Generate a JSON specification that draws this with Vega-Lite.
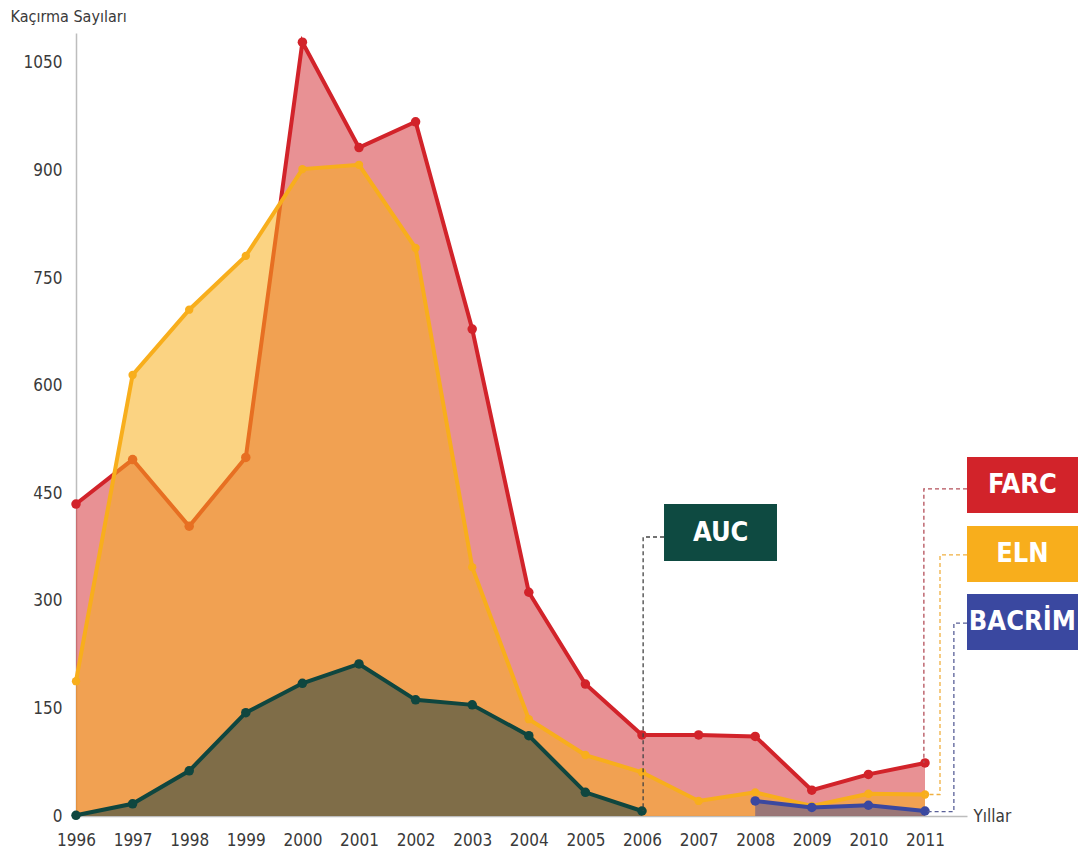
{
  "$schema": "https://vega.github.io/schema/vega-lite/v6.json",
  "width": 891,
  "height": 783,
  "autosize": "none",
  "padding": {"left": 76, "top": 33, "right": 111, "bottom": 38},
  "background": "white",
  "config": {"view": {"stroke": null}, "font": "DejaVu Sans Condensed"},
  "datasets": {
    "kac": [
      {"series": "FARC", "year": 1996, "value": 435}, {"series": "FARC", "year": 1997, "value": 497},
      {"series": "FARC", "year": 1998, "value": 404}, {"series": "FARC", "year": 1999, "value": 500},
      {"series": "FARC", "year": 2000, "value": 1079}, {"series": "FARC", "year": 2001, "value": 932},
      {"series": "FARC", "year": 2002, "value": 968}, {"series": "FARC", "year": 2003, "value": 679},
      {"series": "FARC", "year": 2004, "value": 312}, {"series": "FARC", "year": 2005, "value": 184},
      {"series": "FARC", "year": 2006, "value": 113}, {"series": "FARC", "year": 2007, "value": 113},
      {"series": "FARC", "year": 2008, "value": 111}, {"series": "FARC", "year": 2009, "value": 36},
      {"series": "FARC", "year": 2010, "value": 58}, {"series": "FARC", "year": 2011, "value": 74},
      {"series": "ELN", "year": 1996, "value": 188}, {"series": "ELN", "year": 1997, "value": 615},
      {"series": "ELN", "year": 1998, "value": 706}, {"series": "ELN", "year": 1999, "value": 781},
      {"series": "ELN", "year": 2000, "value": 902}, {"series": "ELN", "year": 2001, "value": 908},
      {"series": "ELN", "year": 2002, "value": 792}, {"series": "ELN", "year": 2003, "value": 347},
      {"series": "ELN", "year": 2004, "value": 135}, {"series": "ELN", "year": 2005, "value": 85},
      {"series": "ELN", "year": 2006, "value": 61}, {"series": "ELN", "year": 2007, "value": 21},
      {"series": "ELN", "year": 2008, "value": 33}, {"series": "ELN", "year": 2009, "value": 14},
      {"series": "ELN", "year": 2010, "value": 31}, {"series": "ELN", "year": 2011, "value": 30},
      {"series": "AUC", "year": 1996, "value": 1}, {"series": "AUC", "year": 1997, "value": 17},
      {"series": "AUC", "year": 1998, "value": 63}, {"series": "AUC", "year": 1999, "value": 144},
      {"series": "AUC", "year": 2000, "value": 185}, {"series": "AUC", "year": 2001, "value": 212},
      {"series": "AUC", "year": 2002, "value": 162}, {"series": "AUC", "year": 2003, "value": 155},
      {"series": "AUC", "year": 2004, "value": 112}, {"series": "AUC", "year": 2005, "value": 33},
      {"series": "AUC", "year": 2006, "value": 7},
      {"series": "BACRİM", "year": 2008, "value": 21}, {"series": "BACRİM", "year": 2009, "value": 12},
      {"series": "BACRİM", "year": 2010, "value": 15}, {"series": "BACRİM", "year": 2011, "value": 7}
    ],
    "boxes": [
      {"label": "FARC", "x1": 2011.742, "x2": 2013.703, "y1": 500.6, "y2": 422.5, "xc": 2012.72, "yc": 461.5},
      {"label": "ELN", "x1": 2011.742, "x2": 2013.703, "y1": 404.4, "y2": 326.3, "xc": 2012.72, "yc": 365.4},
      {"label": "BACRİM", "x1": 2011.742, "x2": 2013.703, "y1": 309.6, "y2": 231.5, "xc": 2012.72, "yc": 270.5},
      {"label": "AUC", "x1": 2006.389, "x2": 2008.385, "y1": 435.1, "y2": 355.6, "xc": 2007.39, "yc": 395.3}
    ],
    "leaders": [
      {"label": "AUC", "ord": 1, "x": 2006.389, "y": 389},
      {"label": "AUC", "ord": 2, "x": 2006.02, "y": 389},
      {"label": "AUC", "ord": 3, "x": 2006.02, "y": 7},
      {"label": "FARC", "ord": 1, "x": 2011.742, "y": 456},
      {"label": "FARC", "ord": 2, "x": 2010.98, "y": 456},
      {"label": "FARC", "ord": 3, "x": 2010.98, "y": 74},
      {"label": "ELN", "ord": 1, "x": 2011.742, "y": 364},
      {"label": "ELN", "ord": 2, "x": 2011.265, "y": 364},
      {"label": "ELN", "ord": 3, "x": 2011.265, "y": 30},
      {"label": "ELN", "ord": 4, "x": 2011.0, "y": 30},
      {"label": "BACRİM", "ord": 1, "x": 2011.742, "y": 269},
      {"label": "BACRİM", "ord": 2, "x": 2011.51, "y": 269},
      {"label": "BACRİM", "ord": 3, "x": 2011.51, "y": 6},
      {"label": "BACRİM", "ord": 4, "x": 2011.0, "y": 6}
    ]
  },
  "layer": [
    {
      "data": {"name": "kac"},
      "transform": [{"filter": "datum.series === 'FARC'"}],
      "mark": {"type": "area", "color": "#d2232a", "opacity": 0.5, "clip": false},
      "encoding": {
        "x": {"field": "year", "type": "quantitative",
              "scale": {"domain": [1996, 2011.742], "nice": false, "zero": false},
              "axis": {"values": [1996,1997,1998,1999,2000,2001,2002,2003,2004,2005,2006,2007,2008,2009,2010,2011],
                       "format": "d", "ticks": false, "grid": false, "labelPadding": 16, "labelFontSize": 17,
                       "labelOverlap": false, "labelBound": false, "labelFlush": false,
                       "labelColor": "#3a3a3a", "domainColor": "#bdbdbd", "domainWidth": 1.5,
                       "title": "Yıllar", "titleAngle": 0, "titleAlign": "left", "titleBaseline": "middle",
                       "titleX": 897, "titleY": 0, "titleFontSize": 17, "titleFontWeight": "normal", "titleColor": "#3a3a3a"}},
        "y": {"field": "value", "type": "quantitative",
              "scale": {"domain": [0, 1091.8], "nice": false},
              "axis": {"values": [0,150,300,450,600,750,900,1050], "format": "d", "ticks": false, "grid": false,
                       "labelPadding": 14, "labelFontSize": 17, "labelColor": "#3a3a3a",
                       "labelOverlap": false, "labelBound": false, "labelFlush": false,
                       "domainColor": "#bdbdbd", "domainWidth": 1.5,
                       "title": "Kaçırma Sayıları", "titleAngle": 0, "titleAlign": "left", "titleBaseline": "middle",
                       "titleX": -66, "titleY": -17, "titleFontSize": 16, "titleFontWeight": "normal", "titleColor": "#3a3a3a"}}
      }
    },
    {
      "data": {"name": "kac"},
      "transform": [{"filter": "datum.series === 'FARC'"}],
      "mark": {"type": "line", "color": "#d2232a", "strokeWidth": 4, "point": {"filled": true, "size": 90, "color": "#d2232a"}, "clip": false},
      "encoding": {"x": {"field": "year", "type": "quantitative"}, "y": {"field": "value", "type": "quantitative"}}
    },
    {
      "data": {"name": "kac"},
      "transform": [{"filter": "datum.series === 'ELN'"}],
      "mark": {"type": "area", "color": "#f8ae1c", "opacity": 0.55, "clip": false},
      "encoding": {"x": {"field": "year", "type": "quantitative"}, "y": {"field": "value", "type": "quantitative"}}
    },
    {
      "data": {"name": "kac"},
      "transform": [{"filter": "datum.series === 'ELN'"}],
      "mark": {"type": "line", "color": "#f8ae1c", "strokeWidth": 4, "point": {"filled": true, "size": 70, "color": "#f8ae1c"}, "clip": false},
      "encoding": {"x": {"field": "year", "type": "quantitative"}, "y": {"field": "value", "type": "quantitative"}}
    },
    {
      "data": {"name": "kac"},
      "transform": [{"filter": "datum.series === 'AUC'"}],
      "mark": {"type": "area", "color": "#7f6d48", "opacity": 1, "clip": false},
      "encoding": {"x": {"field": "year", "type": "quantitative"}, "y": {"field": "value", "type": "quantitative"}}
    },
    {
      "data": {"name": "kac"},
      "transform": [{"filter": "datum.series === 'AUC'"}],
      "mark": {"type": "line", "color": "#0f463f", "strokeWidth": 4, "point": {"filled": true, "size": 90, "color": "#0f463f"}, "clip": false},
      "encoding": {"x": {"field": "year", "type": "quantitative"}, "y": {"field": "value", "type": "quantitative"}}
    },
    {
      "data": {"name": "kac"},
      "transform": [{"filter": "datum.series === 'BACRİM'"}],
      "mark": {"type": "area", "color": "#3a48a0", "opacity": 0.48, "clip": false},
      "encoding": {"x": {"field": "year", "type": "quantitative"}, "y": {"field": "value", "type": "quantitative"}}
    },
    {
      "data": {"name": "kac"},
      "transform": [{"filter": "datum.series === 'BACRİM'"}],
      "mark": {"type": "line", "color": "#3a48a0", "strokeWidth": 4, "point": {"filled": true, "size": 90, "color": "#3a48a0"}, "clip": false},
      "encoding": {"x": {"field": "year", "type": "quantitative"}, "y": {"field": "value", "type": "quantitative"}}
    },
    {
      "data": {"name": "leaders"},
      "mark": {"type": "line", "strokeWidth": 1.3, "strokeDash": [4, 3], "clip": false},
      "encoding": {
        "x": {"field": "x", "type": "quantitative"},
        "y": {"field": "y", "type": "quantitative"},
        "order": {"field": "ord"},
        "detail": {"field": "label"},
        "color": {"field": "label", "type": "nominal", "legend": null,
                  "scale": {"domain": ["FARC", "ELN", "BACRİM", "AUC"], "range": ["#b4505a", "#f0b040", "#5a6098", "#444444"]}}
      }
    },
    {
      "data": {"name": "boxes"},
      "mark": {"type": "rect", "clip": false},
      "encoding": {
        "x": {"field": "x1", "type": "quantitative"},
        "x2": {"field": "x2"},
        "y": {"field": "y1", "type": "quantitative"},
        "y2": {"field": "y2"},
        "fill": {"field": "label", "type": "nominal", "legend": null,
                 "scale": {"domain": ["FARC", "ELN", "BACRİM", "AUC"], "range": ["#d2232a", "#f8ae1c", "#3a48a0", "#0e4a41"]}}
      }
    },
    {
      "data": {"name": "boxes"},
      "mark": {"type": "text", "color": "white", "fontSize": 27, "fontWeight": "bold", "font": "DejaVu Sans Condensed", "align": "center", "baseline": "middle", "clip": false},
      "encoding": {
        "x": {"field": "xc", "type": "quantitative"},
        "y": {"field": "yc", "type": "quantitative"},
        "text": {"field": "label"}
      }
    }
  ]
}
